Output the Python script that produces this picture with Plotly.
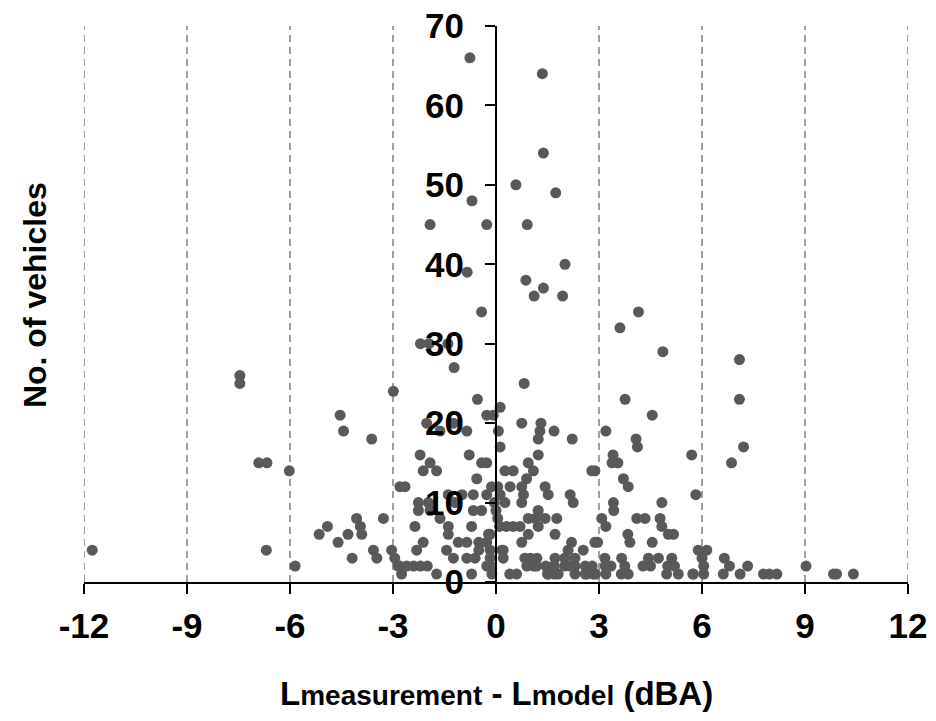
import plotly.graph_objects as go

# Data: (difference in dBA, number of vehicles)
x_vals = [
    -11.76, -7.46, -7.46, -6.91, -6.67, -6.02, -6.69, -5.85, -5.15, -4.91, -4.6, -4.31, -4.19,
    -4.06, -3.95, -4.54, -4.44, -3.62, -3.91, -3.57, -3.47, -3.28, -3.04, -2.95, -2.99, -2.85,
    -2.8, -2.65, -2.75, -2.8, -2.6, -2.4, -2.2, -2.0,
    -2.36, -2.31, -2.12, -2.26, -2.26, -1.97, -1.92, -2.12, -1.73, -2.21, -1.92, -2.02, -1.63,
    -1.24, -0.85, -1.92, -2.2, -1.95, -1.4, -1.22,
    -1.63, -1.39, -1.39, -1.1, -0.85, -1.44, -1.24, -0.85, -0.61, -1.73, -0.71, -0.27, -1.19,
    -0.99, -1.39, -0.66, -0.42, -0.71, -0.22, -0.5, -0.5, -0.66, -0.27, -0.13, -0.56, -0.78,
    -0.42, -0.27, -0.54, -0.27, -0.08, 0.12, 0.07, 0.12, -0.42, -0.84, -0.27, -0.76, -0.70,
    -0.17, -0.27, -0.17, -0.17, -0.15, -0.12, 0.0, 0.05, -0.05, 0.05,
    0.82, 0.91, 0.58, 1.38, 1.35, 1.74, 2.01, 0.87, 1.38, 1.11, 1.94, 0.75, 1.31, 1.28, 1.69,
    1.23, 2.22, 1.23, 3.2, 0.26, 0.5, 0.94, 1.09, 0.89, 2.79, 2.88, 3.41, 3.38, 3.55,
    0.41, 0.75, 1.43, 1.52, 2.16, 2.25, 0.12, 0.26, 0.75, 0.8, 1.23, 0.94, 1.14, 1.43, 1.77,
    0.1, 0.3, 0.5, 0.7, 1.23, 0.94, 1.72, 0.75, 2.2, 0.17, 2.1, 2.54, 0.84, 1.19, 1.72, 2.0, 2.88,
    0.9, 1.1, 1.45, 1.7, 2.0, 2.3, 2.6, 2.8,
    0.4, 0.6, 1.5, 1.7, 2.3, 2.6, 2.9,
    0.21, 0.21,
    4.15, 3.61, 4.86, 7.09, 7.09, 3.76, 4.55, 7.21, 6.86, 5.7, 5.82, 4.08, 4.12, 3.71, 3.85,
    3.42, 3.43, 4.83, 4.1, 4.34, 4.78, 4.83, 3.08, 3.2, 3.84, 3.9, 5.02, 5.17, 4.55, 2.96,
    5.89, 6.14, 6.0, 6.05, 6.05, 5.73, 6.65, 6.8, 6.62, 7.33, 7.11, 7.79, 7.96, 8.18, 9.03,
    9.83, 9.92, 10.41,
    3.17, 3.66, 4.44, 4.73, 5.12, 2.3, 1.0,
    3.18, 3.35, 3.75, 4.28, 4.5, 5.0, 5.2, 1.18, 1.67, 2.16,
    3.2, 3.65, 3.85, 4.97, 5.31, 5.75, 1.52, 1.81, 2.64, 2.83,
]
y_vals = [
    4, 26, 25, 15, 15, 14, 4, 2, 6, 7, 5, 6, 3,
    8, 7, 21, 19, 18, 6, 4, 3, 8, 4, 3, 24, 2,
    12, 12, 1, 2, 2, 2, 2, 2,
    7, 4, 5, 10, 9, 10, 9, 14, 14, 16, 15, 20, 19,
    20, 19, 45, 30, 30, 30, 27,
    8, 7, 6, 5, 5, 4, 3, 3, 3, 1, 1, 2, 10,
    11, 11, 9, 9, 7, 6, 5, 4, 11, 11, 12, 13, 16,
    15, 15, 23, 21, 21, 22, 19, 17, 34, 39, 45, 66, 48,
    6, 5, 4, 3, 2, 1, 9, 8, 10, 12,
    25, 45, 50, 54, 64, 49, 40, 38, 37, 36, 36, 20, 20, 19, 19,
    18, 18, 16, 19, 14, 14, 15, 14, 13, 14, 14, 16, 15, 15,
    12, 12, 12, 11, 11, 10, 11, 10, 10, 11, 9, 8, 8, 8, 8,
    7, 7, 7, 7, 7, 6, 6, 5, 5, 4, 4, 4, 3, 3, 3, 3, 5,
    2, 2, 2, 2, 2, 2, 2, 2,
    1, 1, 1, 1, 1, 1, 1,
    4, 3,
    34, 32, 29, 28, 23, 23, 21, 17, 15, 16, 11, 18, 17, 13, 12,
    10, 9, 10, 8, 8, 8, 7, 8, 7, 6, 5, 6, 6, 5, 5,
    4, 4, 3, 2, 1, 1, 3, 2, 1, 2, 1, 1, 1, 1, 2,
    1, 1, 1,
    3, 3, 3, 3, 3, 3, 3,
    2, 2, 2, 2, 2, 2, 2, 2, 2, 2,
    1, 1, 1, 1, 1, 1, 1, 1, 1, 1,
]

x_ticks = [-12, -9, -6, -3, 0, 3, 6, 9, 12]
y_ticks = [0, 10, 20, 30, 40, 50, 60, 70]

FONT = "Liberation Sans, Arial, sans-serif"

fig = go.Figure()
fig.add_trace(go.Scatter(
    x=x_vals, y=y_vals, mode="markers",
    marker=dict(size=11, color="#595959", line=dict(width=0)),
    showlegend=False,
))

# dashed vertical grid lines at every x tick (except where the y axis sits)
for xv in x_ticks:
    if xv == 0:
        continue
    fig.add_shape(type="line", xref="x", yref="paper", x0=xv, x1=xv, y0=0, y1=1,
                  line=dict(color="#7f7f7f", width=1.5, dash="7px,5px"), layer="below")

fig.update_layout(
    width=936, height=721,
    margin=dict(l=84, r=28, t=26, b=139, autoexpand=False),
    paper_bgcolor="white", plot_bgcolor="white",
    font=dict(family=FONT, color="black"),
    xaxis=dict(
        range=[-12, 12], tickvals=x_ticks, ticktext=[str(v) for v in x_ticks],
        automargin=False,
        showgrid=False, zeroline=False, showline=True, linecolor="black", linewidth=2,
        ticks="outside", ticklen=10, tickwidth=2, tickcolor="black",
        ticklabelstandoff=2,
        tickfont=dict(size=35, family=FONT, weight="bold"),
    ),
    yaxis=dict(
        range=[0, 70], tickvals=y_ticks, ticktext=[str(v) for v in y_ticks],
        anchor="free", position=0.5, automargin=False,
        showgrid=False, zeroline=False, showline=True, linecolor="black", linewidth=2,
        ticks="outside", ticklen=10, tickwidth=2, tickcolor="black",
        ticklabelstandoff=14,
        tickfont=dict(size=35, family=FONT, weight="bold"),
    ),
    annotations=[
        dict(text="<b>No. of vehicles</b>", xref="paper", yref="paper",
             x=-0.0595, y=0.516, textangle=-90, showarrow=False,
             xanchor="center", yanchor="middle",
             font=dict(size=32, family=FONT, color="black")),
        dict(text="<b>L<span style='font-size:28px'>measurement</span> - "
                  "L<span style='font-size:28px'>model</span> (dBA)</b>",
             xref="paper", yref="paper", x=0.5, y=-0.2, showarrow=False,
             xanchor="center", yanchor="middle",
             font=dict(size=33, family=FONT, color="black")),
    ],
)

fig.write_html("out.html")
